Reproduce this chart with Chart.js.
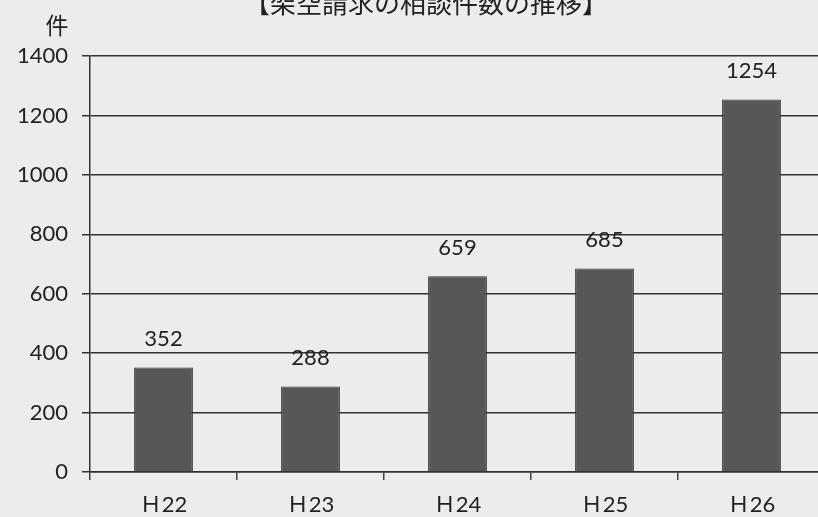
<!DOCTYPE html>
<html>
<head>
<meta charset="utf-8">
<script src="https://cdn.jsdelivr.net/npm/chart.js@4"></script>
<style>
  html, body { margin: 0; padding: 0; background: #ececec; overflow: hidden; }
  #wrap { position: relative; width: 826px; height: 517px; }
</style>
</head>
<body>
<div id="wrap"><canvas id="consultChart" width="826" height="517"></canvas></div>
<script>
// chart values
const categories = ['Ｈ22', 'Ｈ23', 'Ｈ24', 'Ｈ25', 'Ｈ26'];
const counts = [352, 288, 659, 685, 1254];
const yTicks = [0, 200, 400, 600, 800, 1000, 1200, 1400];
const titleText = '【架空請求の相談件数の推移】';
const unitText = '件';

const font = "Lato, 'Noto Sans CJK JP', sans-serif";

// title, unit label and the numbers above the bars
const textPlugin = {
  id: 'textPlugin',
  afterDraw(chart) {
    const ctx = chart.ctx;
    ctx.save();
    ctx.fillStyle = '#222';
    ctx.textAlign = 'center';
    ctx.textBaseline = 'alphabetic';
    ctx.font = "26px 'Noto Sans CJK JP', sans-serif";
    ctx.fillText(titleText, 426, 13);
    ctx.font = "23px 'Noto Sans CJK JP', sans-serif";
    ctx.fillText(unitText, 57, 34);

    ctx.font = '22px ' + font;
    const meta = chart.getDatasetMeta(0);
    meta.data.forEach((bar, i) => {
      ctx.fillText(String(counts[i]), bar.x, bar.y - 21);
    });
    ctx.restore();
  }
};

new Chart(document.getElementById('consultChart'), {
  type: 'bar',
  data: {
    labels: categories,
    datasets: [{
      data: counts,
      backgroundColor: '#575757',
      borderColor: '#333',
      borderWidth: 1,
      categoryPercentage: 1,
      barPercentage: 0.4
    }]
  },
  options: {
    responsive: false,
    animation: false,
    devicePixelRatio: 1,
    layout: { padding: { top: 56, right: 1, left: 0, bottom: 0 } },
    plugins: {
      legend: { display: false },
      tooltip: { enabled: false },
      title: { display: false }
    },
    scales: {
      x: {
        grid: {
          offset: true,
          drawOnChartArea: false,
          drawTicks: true,
          tickLength: 8,
          color: '#444',
          lineWidth: 1.5
        },
        border: { color: '#333', width: 1.5 },
        ticks: { color: '#222', font: { family: font, size: 22 }, padding: 12, maxRotation: 0 },
        afterFit(scale) { scale.height = 45; }
      },
      y: {
        min: 0,
        max: 1400,
        afterBuildTicks(scale) { scale.ticks = yTicks.map(v => ({ value: v })); },
        grid: { color: '#333', lineWidth: 1.5, tickLength: 8 },
        border: { color: '#333', width: 1.5 },
        ticks: {
          color: '#222',
          font: { family: font, size: 22 },
          padding: 14,
          callback: v => String(v)
        },
        afterFit(scale) { scale.width = 90; }
      }
    }
  },
  plugins: [textPlugin]
});
</script>
</body>
</html>
